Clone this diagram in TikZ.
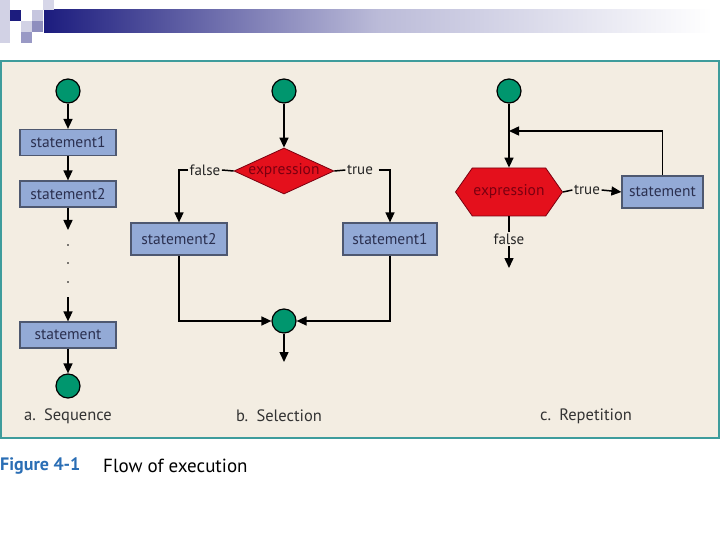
\documentclass[tikz,border=0pt]{standalone}
\usepackage{fontspec}
\setmainfont{PT Sans}
\usetikzlibrary{arrows.meta,shapes.geometric,shapes.symbols}
\definecolor{navy}{HTML}{1C1C7E}
\definecolor{paper}{HTML}{F3EDE2}
\definecolor{frameteal}{HTML}{3E9C9C}
\definecolor{boxblue}{HTML}{93AAD6}
\definecolor{boxline}{HTML}{4E5870}
\definecolor{boxtext}{HTML}{2B3050}
\definecolor{dotgreen}{HTML}{00966E}
\definecolor{testred}{HTML}{E4101C}
\definecolor{testtext}{HTML}{7A0010}
\definecolor{figblue}{HTML}{2A6EB5}
\begin{document}
\begin{tikzpicture}[x=1pt,y=-1pt,
    flow/.style={line width=1.5pt,-{Triangle[length=10pt,width=9pt]}},
    wire/.style={line width=1.5pt},
    stmt/.style={draw=boxline,line width=1.2pt,fill=boxblue,text=boxtext,
      minimum height=26pt,minimum width=96pt,inner sep=0pt,
      font=\fontsize{15.5}{17}\selectfont},
    term/.style={circle,draw=black,line width=1.2pt,fill=dotgreen,
      minimum size=24pt,inner sep=0pt},
    test/.style={draw=testtext,line width=0.8pt,fill=testred,inner sep=0pt,
      label={[text=testtext,font=\fontsize{15.5}{17}\selectfont]center:expression}},
    lbl/.style={text=black!85,inner sep=1.5pt,font=\fontsize{15}{17}\selectfont},
    part/.style={text=black!80,font=\fontsize{16.5}{18}\selectfont},
    gap/.style={circle,fill=black,minimum size=1.8pt,inner sep=0pt}]
\useasboundingbox (0,0) rectangle (720,540);

% slide header
\fill[white] (0,0) rectangle (720,540);
\shade[left color=navy,right color=white,middle color=navy!30] (44,10) rectangle (712,33);
\fill[navy!20] (0,0) rectangle (10,43);
\fill[navy] (10,10) rectangle (21,21);
\fill[navy!25] (32,10) rectangle (43,21);
\fill[navy!20] (21,21) rectangle (32,32);
\fill[navy!50] (32,21) rectangle (43,32);
\fill[navy!45] (21,32) rectangle (32,43);
\fill[navy!18] (43,0) rectangle (54,10);

% frame
\draw[frameteal,line width=2pt,fill=paper] (1,61) rectangle (719,438);

% a. Sequence
\node[term] (seqstart) at (68,91) {};
\node[stmt] (seqone) at (68,142.5) {statement1};
\node[stmt] (seqtwo) at (68,194) {statement2};
\coordinate (seqgap) at (68,230);
\node[gap] (seqdotA) at (68,245) {};
\node[gap] (seqdotB) at (68,263) {};
\node[gap] (seqdotC) at (68,282) {};
\coordinate (seqresume) at (68,297);
\node[stmt] (seqlast) at (68,335) {statement};
\node[term] (seqend) at (68,386) {};
\draw[flow] (seqstart) -- (seqone);
\draw[flow] (seqone) -- (seqtwo);
\draw[flow] (seqtwo) -- (seqgap);
\draw[flow] (seqresume) -- (seqlast);
\draw[flow] (seqlast) -- (seqend);
\node[part] (seqname) at (68,416) {a.\enspace Sequence};

% b. Selection
\node[term] (selstart) at (284,91) {};
\node[test,diamond,minimum width=100pt,minimum height=46pt] (seltest) at (284,171) {};
\node[lbl] (selno) at (205,170) {false};
\node[lbl] (selyes) at (360,170) {true};
\node[stmt,minimum height=32pt] (selfalse) at (179,239) {statement2};
\node[stmt,minimum height=32pt,minimum width=94pt] (seltrue) at (390,239) {statement1};
\node[term] (seljoin) at (284,321) {};
\coordinate (selout) at (284,362);
\draw[flow] (selstart) -- (seltest);
\draw[wire] (seltest.west) -- (selno.east);
\draw[flow] (selno.west) -| (selfalse.north);
\draw[wire] (seltest.east) -- (selyes.west);
\draw[flow] ([xshift=4pt]selyes.east) -| (seltrue.north);
\draw[flow] (selfalse.south) |- (seljoin.west);
\draw[flow] (seltrue.south) |- (seljoin.east);
\draw[flow] (seljoin) -- (selout);
\node[part] (selname) at (279,416) {b.\enspace Selection};

% c. Repetition
\node[term] (repstart) at (509,91) {};
\node[test,signal,signal to=west and east,signal pointer angle=110,
  minimum width=107pt,minimum height=48pt] (reptest) at (509,192) {};
\node[lbl] (repyes) at (587,190) {true};
\node[stmt,minimum height=32pt,minimum width=81pt] (repbody) at (662.5,192) {statement};
\coordinate (repback) at (509,131);
\node[lbl] (repno) at (509,239) {false};
\coordinate (repout) at (509,268);
\draw[flow] (repstart) -- (reptest);
\draw[flow] (repbody.north) |- (repback);
\draw[wire] (reptest.east) -- (repyes.west);
\draw[flow] (repyes.east) -- (repbody.west);
\draw[wire] (reptest.south) -- (repno.north);
\draw[flow] (repno.south) -- (repout);
\node[part] (repname) at (586,416) {c.\enspace Repetition};

% caption
\node[anchor=west,inner sep=0pt,text=figblue,font=\bfseries\fontsize{18}{20}\selectfont] (figno) at (0,466) {Figure 4-1};
\node[anchor=west,inner sep=0pt,font=\fontsize{19}{21}\selectfont] (figtitle) at (103,466) {Flow of execution};
\end{tikzpicture}
\end{document}
